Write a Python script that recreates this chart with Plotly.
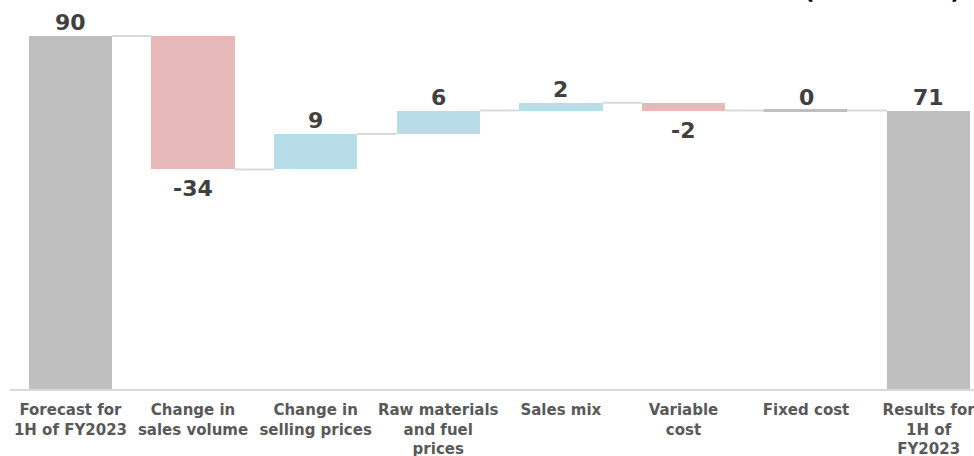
import plotly.graph_objects as go

categories = ["Forecast for<br>1H of FY2023", "Change in<br>sales volume", "Change in<br>selling prices",
              "Raw materials<br>and fuel<br>prices", "Sales mix", "Variable<br>cost", "Fixed cost",
              "Results for<br>1H of<br>FY2023"]
values = [90, -34, 9, 6, 2, -2, 0, 71]
kinds = ["total", "delta", "delta", "delta", "delta", "delta", "delta", "total"]
unit_label = "(Billion Yen)"

GRAY = "#bfbfbf"
RED = "#e6b8b7"
BLUE = "#b7dee8"
TXT = "#404040"
BW = 0.68

bases, heights, colors, ends = [], [], [], []
level = 0
for v, k in zip(values, kinds):
    if k == "total":
        bases.append(0); heights.append(v); colors.append(GRAY); level = v
    else:
        bases.append(level); heights.append(v)
        colors.append(BLUE if v > 0 else (RED if v < 0 else GRAY))
        level = level + v
    ends.append(level)

xs = list(range(len(values)))
fig = go.Figure()
fig.add_trace(go.Bar(x=xs, y=heights, base=bases, width=BW, marker_color=colors,
                     marker_line_color=[GRAY if (h == 0) else c for h, c in zip(heights, colors)],
                     marker_line_width=[3 if h == 0 else 0 for h in heights],
                     hoverinfo="skip", showlegend=False))

# connectors
cx, cy = [], []
for i in range(len(values) - 1):
    cx += [i + BW / 2, i + 1 - BW / 2, None]
    cy += [ends[i], ends[i], None]
fig.add_trace(go.Scatter(x=cx, y=cy, mode="lines", line=dict(color="#d9d9d9", width=2),
                         hoverinfo="skip", showlegend=False))

# labels
for i, (v, e) in enumerate(zip(values, ends)):
    neg = v < 0
    fig.add_annotation(x=i, y=e, xref="x", yref="y", text="<b>%d</b>" % v, showarrow=False,
                       yanchor="top" if neg else "bottom", yshift=-5 if neg else -1,
                       font=dict(family="DejaVu Sans", size=22, color=TXT))

fig.add_annotation(text="<b>" + unit_label + "</b>", xref="paper", yref="paper",
                   x=(882 - 10) / 964, y=1 - 6 / 389, xanchor="center", yanchor="bottom", showarrow=False,
                   font=dict(family="DejaVu Sans", size=23, color="#000000"))

fig.update_layout(
    width=974, height=456, margin=dict(l=10, r=0, t=0, b=67, autoexpand=False),
    paper_bgcolor="white", plot_bgcolor="white",
    font=dict(family="DejaVu Sans", color=TXT),
    xaxis=dict(range=[-0.493, 7.37], tickmode="array", tickvals=xs,
               ticktext=["<b>" + c + "</b>" for c in categories],
               tickfont=dict(size=15, color="#595959"), showgrid=False, zeroline=False,
               showline=True, linecolor="#d9d9d9", linewidth=2, ticks="", ticklabelstandoff=6,
               ticklabeloverflow="allow", automargin=False),
    yaxis=dict(range=[0, 99.2], visible=False, showgrid=False, zeroline=False, automargin=False),
    bargap=0,
)

fig.write_html("out.html")
